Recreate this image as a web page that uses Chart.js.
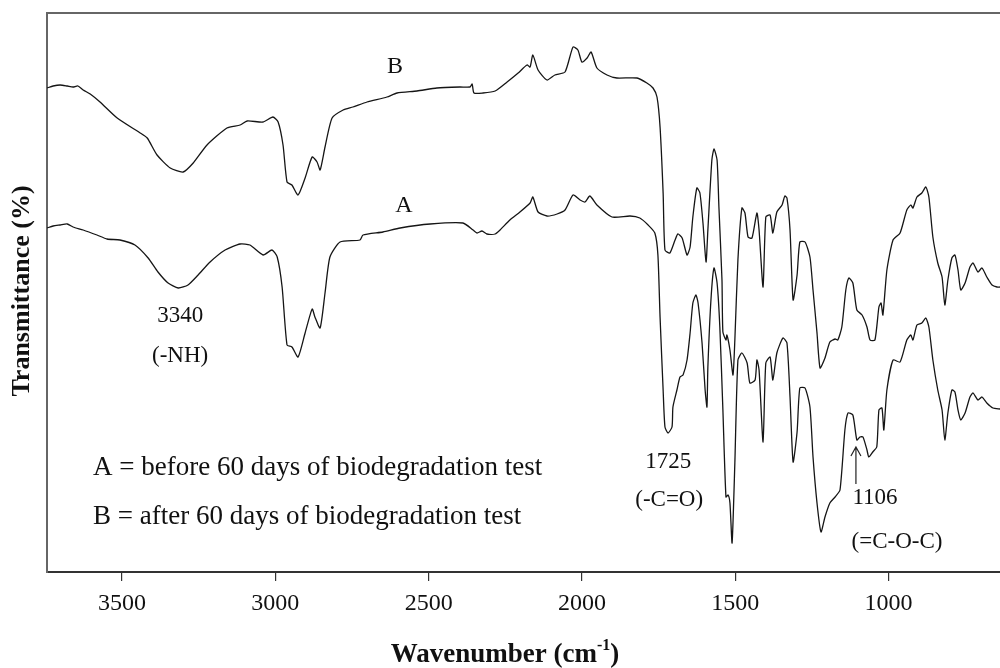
<!DOCTYPE html>
<html>
<head>
<meta charset="utf-8">
<script src="https://cdn.jsdelivr.net/npm/chart.js@4.4.0/dist/chart.umd.min.js"></script>
<style>
  html, body { margin: 0; padding: 0; background: #fff; overflow: hidden; }
  #wrap { width: 1000px; height: 668px; position: relative; }
</style>
</head>
<body>
<div id="wrap"><canvas id="ftir"></canvas></div>
<script>
// Espectro B (após 60 dias de biodegradação)
const wnB = [3745, 3725, 3702, 3679, 3660, 3644, 3627, 3604, 3572, 3516, 3441, 3418, 3386, 3343, 3301, 3268, 3223, 3158, 3115, 3092,
  3040, 3008, 2991, 2975, 2962, 2946, 2926, 2903, 2880, 2864, 2854, 2838, 2815, 2779, 2747, 2701, 2636, 2603, 2538, 2473,
  2398, 2365, 2358, 2352, 2323, 2283, 2244, 2208, 2179, 2169, 2160, 2143, 2114, 2088, 2055, 2029, 2013, 2000, 1983, 1970,
  1951, 1918, 1886, 1820, 1788, 1768, 1755, 1745, 1735, 1729, 1713, 1696, 1687, 1673, 1657, 1647, 1638, 1625, 1615, 1605,
  1595, 1589, 1576, 1569, 1559, 1553, 1543, 1540, 1530, 1527, 1517, 1507, 1501, 1491, 1478, 1468, 1458, 1445, 1429, 1422,
  1409, 1400, 1386, 1377, 1364, 1347, 1338, 1331, 1321, 1311, 1298, 1289, 1272, 1256, 1246, 1233, 1223, 1207, 1191, 1174,
  1165, 1152, 1139, 1129, 1116, 1103, 1086, 1070, 1060, 1044, 1031, 1024, 1018, 1005, 985, 962, 940, 927, 920, 907,
  891, 878, 868, 855, 839, 825, 816, 806, 793, 783, 773, 764, 750, 734, 724, 708, 695, 679, 662, 646, 636];
const tB = [48.4, 48.6, 48.7, 48.6, 48.5, 48.6, 48.2, 47.8, 47.0, 45.4, 43.9, 43.4, 41.7, 40.4, 40.0, 40.9, 42.7, 44.4, 44.7, 45.1,
  45.0, 45.5, 45.0, 42.7, 39.0, 38.7, 37.7, 39.4, 41.5, 41.0, 40.2, 42.5, 45.4, 46.2, 46.5, 47.0, 47.5, 47.9, 48.1, 48.4,
  48.5, 48.5, 48.8, 47.9, 47.9, 48.1, 49.0, 49.9, 50.7, 50.5, 51.7, 50.2, 49.2, 49.7, 50.0, 52.5, 52.2, 51.0, 51.4, 52.0,
  50.4, 49.7, 49.4, 49.4, 48.9, 48.4, 47.5, 44.5, 37.9, 32.2, 31.9, 33.2, 33.8, 33.4, 31.7, 32.5, 35.5, 38.4, 37.9, 34.9,
  31.0, 34.2, 41.2, 42.3, 41.2, 36.5, 29.2, 24.0, 23.2, 23.7, 22.2, 19.7, 23.2, 31.2, 36.4, 35.9, 33.5, 33.4, 35.9, 34.2,
  28.5, 35.5, 35.7, 33.9, 36.0, 36.7, 37.6, 37.4, 34.2, 27.2, 29.7, 33.0, 33.0, 31.5, 28.2, 23.9, 20.4, 21.4, 23.0, 23.3,
  23.2, 24.5, 28.2, 29.4, 28.9, 26.2, 25.7, 24.5, 23.2, 23.2, 26.5, 26.9, 25.7, 30.2, 33.2, 33.9, 36.2, 36.7, 36.4, 37.5,
  37.9, 38.5, 37.5, 33.5, 30.9, 29.5, 26.7, 29.2, 31.4, 31.7, 30.2, 28.2, 28.9, 30.5, 30.9, 30.0, 30.4, 29.5, 28.7, 28.5, 28.5];

// Espectro A (antes do teste)
const wnA = [3745, 3725, 3702, 3679, 3660, 3627, 3582, 3549, 3507, 3458, 3415, 3383, 3350, 3317, 3285, 3252, 3213, 3164, 3115, 3083,
  3040, 3011, 2994, 2978, 2962, 2946, 2926, 2903, 2880, 2871, 2854, 2838, 2822, 2789, 2724, 2714, 2649, 2593, 2495, 2388,
  2355, 2342, 2326, 2310, 2283, 2267, 2235, 2202, 2169, 2160, 2143, 2114, 2081, 2055, 2029, 2006, 1990, 1974, 1951, 1902,
  1843, 1811, 1784, 1762, 1752, 1745, 1735, 1729, 1719, 1706, 1703, 1690, 1680, 1670, 1657, 1647, 1638, 1628, 1621, 1608,
  1598, 1592, 1589, 1579, 1569, 1559, 1550, 1540, 1530, 1523, 1517, 1510, 1501, 1491, 1478, 1461, 1452, 1435, 1429, 1422,
  1409, 1400, 1386, 1377, 1364, 1344, 1331, 1321, 1311, 1298, 1289, 1272, 1256, 1246, 1233, 1220, 1207, 1191, 1174, 1158,
  1142, 1132, 1116, 1103, 1093, 1083, 1070, 1064, 1051, 1038, 1031, 1021, 1015, 1005, 985, 962, 940, 927, 920, 907,
  891, 878, 868, 855, 839, 825, 816, 806, 793, 783, 773, 764, 750, 734, 724, 708, 695, 679, 659, 636];
const tA = [34.4, 34.6, 34.7, 34.8, 34.5, 34.2, 33.7, 33.3, 33.2, 32.7, 31.4, 30.0, 28.9, 28.4, 28.7, 29.7, 31.0, 32.2, 32.8, 32.7,
  31.7, 32.2, 31.5, 28.5, 22.7, 22.5, 21.5, 23.9, 26.3, 25.5, 24.4, 27.9, 31.5, 33.0, 33.2, 33.7, 34.0, 34.4, 34.8, 34.9,
  34.2, 33.9, 34.1, 33.8, 33.8, 34.2, 35.2, 36.0, 36.9, 37.5, 36.0, 35.6, 35.8, 36.2, 37.7, 37.2, 37.0, 37.6, 36.7, 35.5,
  35.6, 35.4, 34.7, 33.9, 31.7, 25.5, 18.2, 14.5, 13.9, 14.5, 16.5, 18.2, 19.5, 19.7, 21.2, 23.9, 26.9, 27.7, 26.9, 22.9,
  18.2, 16.5, 20.5, 27.2, 30.4, 28.9, 24.5, 16.2, 7.5, 7.7, 6.9, 2.9, 10.9, 21.2, 21.9, 20.9, 18.9, 19.2, 21.2, 20.2,
  13.0, 20.9, 21.5, 19.2, 21.9, 23.4, 22.9, 17.5, 11.0, 14.0, 18.4, 18.4, 16.5, 11.5, 6.9, 4.0, 5.5, 6.9, 7.5, 8.2,
  14.2, 15.9, 15.7, 13.2, 13.5, 13.5, 12.2, 11.5, 12.0, 12.5, 16.2, 16.4, 14.2, 18.2, 21.2, 21.0, 23.2, 23.7, 23.2, 24.7,
  24.9, 25.4, 24.5, 21.2, 18.2, 16.2, 13.2, 15.9, 18.2, 18.0, 16.2, 15.2, 15.9, 17.5, 17.9, 17.2, 17.5, 16.9, 16.4, 16.3];

const xTicks = [3500, 3000, 2500, 2000, 1500, 1000];

const serif = '"Liberation Serif", "Times New Roman", serif';

// Textos, rótulos dos picos e seta
const anotacoes = {
  id: 'anotacoes',
  afterDraw(chart) {
    const { ctx, chartArea: ca, scales: { x } } = chart;
    ctx.save();

    // borda superior
    ctx.strokeStyle = '#666';
    ctx.lineWidth = 2;
    ctx.beginPath();
    ctx.moveTo(ca.left, ca.top);
    ctx.lineTo(ca.right, ca.top);
    ctx.stroke();

    ctx.fillStyle = '#111';
    ctx.textAlign = 'center';
    ctx.textBaseline = 'middle';

    ctx.font = '24px ' + serif;
    ctx.fillText('B', 395, 67);
    ctx.fillText('A', 404, 206);

    ctx.font = '23px ' + serif;
    ctx.fillText('3340', x.getPixelForValue(3340) + 9, 316);
    ctx.fillText('(-NH)', x.getPixelForValue(3340) + 9, 356);
    ctx.fillText('1725', x.getPixelForValue(1725) + 2, 462);
    ctx.fillText('(-C=O)', x.getPixelForValue(1725) + 3, 500);
    ctx.fillText('1106', 875, 498);
    ctx.fillText('(=C-O-C)', 897, 542);

    // seta do pico 1106
    const ax = x.getPixelForValue(1106);
    ctx.strokeStyle = '#222';
    ctx.lineWidth = 1.2;
    ctx.beginPath();
    ctx.moveTo(ax, 484);
    ctx.lineTo(ax, 447);
    ctx.moveTo(ax - 5, 456);
    ctx.lineTo(ax, 447);
    ctx.lineTo(ax + 5, 456);
    ctx.stroke();

    ctx.textAlign = 'left';
    ctx.font = '27px ' + serif;
    ctx.fillText('A = before 60 days of biodegradation test', 93, 468);
    ctx.fillText('B = after 60 days of biodegradation test', 93, 517);

    // título do eixo x com expoente
    ctx.font = 'bold 27px ' + serif;
    const p1 = 'Wavenumber (cm', p3 = ')';
    const w1 = ctx.measureText(p1).width;
    const w3 = ctx.measureText(p3).width;
    ctx.font = 'bold 16px ' + serif;
    const w2 = ctx.measureText('-1').width;
    let sx = 505 - (w1 + w2 + w3) / 2;
    ctx.font = 'bold 27px ' + serif;
    ctx.fillText(p1, sx, 655);
    ctx.font = 'bold 16px ' + serif;
    ctx.fillText('-1', sx + w1, 646);
    ctx.font = 'bold 27px ' + serif;
    ctx.fillText(p3, sx + w1 + w2, 655);

    // título do eixo y
    ctx.font = 'bold 26px ' + serif;
    ctx.translate(22, 291);
    ctx.rotate(-Math.PI / 2);
    ctx.textAlign = 'center';
    ctx.fillText('Transmittance (%)', 0, 0);
    ctx.restore();
  }
};

const serie = (wn, t) => wn.map((v, i) => ({ x: v, y: t[i] }));

const ctx = document.getElementById('ftir').getContext('2d');
new Chart(ctx, {
  type: 'line',
  data: {
    datasets: [
      { label: 'B', data: serie(wnB, tB), borderColor: '#151515', borderWidth: 1.3, pointRadius: 0, tension: 0.2, fill: false },
      { label: 'A', data: serie(wnA, tA), borderColor: '#151515', borderWidth: 1.3, pointRadius: 0, tension: 0.2, fill: false }
    ]
  },
  options: {
    responsive: true,
    maintainAspectRatio: false,
    animation: false,
    devicePixelRatio: 1,
    layout: { padding: { top: 13, right: 0, bottom: 0, left: 0 } },
    scales: {
      x: {
        type: 'linear',
        reverse: true,
        min: 636,
        max: 3745,
        afterBuildTicks: s => { s.ticks = xTicks.map(v => ({ value: v })); },
        afterFit: s => { s.height = 96; },
        grid: { display: true, drawOnChartArea: false, tickLength: 9, color: '#333', lineWidth: 1.2 },
        border: { display: true, color: '#333', width: 2 },
        ticks: {
          font: { family: serif, size: 24 },
          color: '#111',
          padding: 8,
          maxRotation: 0,
          autoSkip: false,
          callback: v => String(v)
        }
      },
      y: {
        min: 0,
        max: 55.9,
        afterFit: s => { s.width = 47; },
        grid: { display: false },
        border: { display: true, color: '#666', width: 2 },
        ticks: { display: false }
      }
    },
    plugins: {
      legend: { display: false },
      tooltip: { enabled: false }
    }
  },
  plugins: [anotacoes]
});
</script>
</body>
</html>
